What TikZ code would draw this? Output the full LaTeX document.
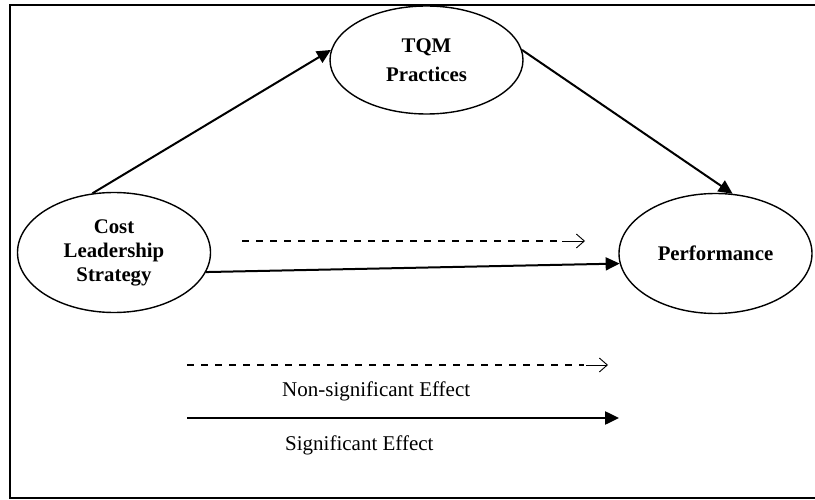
\documentclass[tikz,border=0pt]{standalone}
\usepackage{fontspec}
\setmainfont{Liberation Serif}
\usetikzlibrary{arrows.meta,shapes.geometric,calc}
\tikzset{var/.style={draw,ellipse,line width=1.4pt,minimum width=193pt,minimum height=120pt,inner sep=0pt,align=center,font=\fontsize{20.8}{24}\selectfont\bfseries}}
\tikzset{sig/.style={line width=2pt,-{Triangle[length=14pt,width=13pt]}}}
\tikzset{nonsig/.style={line width=1.8pt,dash pattern=on 7pt off 7pt}}
\tikzset{barb/.style={line width=0.9pt,-{Straight Barb[length=8pt,width=14pt]}}}
\tikzset{lbl/.style={font=\fontsize{21}{21}\selectfont,anchor=west,inner sep=0pt}}

\begin{document}
\begin{tikzpicture}[x=1pt,y=-1pt]
\useasboundingbox (0,0) rectangle (815,500);
\draw[line width=2pt] (10,5) rectangle (830,498);
\node[var,minimum height=108pt,font=\fontsize{20.8}{29}\selectfont\bfseries] (tqm) at (426.5,60) {TQM\\Practices};
\node[var] (cls) at (114,252.5) {Cost\\Leadership\\Strategy};
\node[var] (perf) at (715.5,253.5) {Performance};
\draw[sig] (cls.110) -- (tqm.174);
\draw[sig] (tqm.6) -- (perf.74);
\draw[sig] (cls.-12) -- (perf.186);
\coordinate (d1) at (242,241);
\coordinate (d2) at (585,241);
\draw[nonsig] (d1) -- ($(d2)+(-26,0)$);
\draw[barb] ($(d2)+(-23,0)$) -- (d2);
\coordinate (n1) at (187,365);
\coordinate (n2) at (608,365);
\draw[nonsig] (n1) -- ($(n2)+(-24,0)$);
\draw[barb] ($(n2)+(-22,0)$) -- (n2);
\node[lbl] (nslbl) at (282,391) {Non-significant Effect};
\coordinate (s1) at (187,418);
\coordinate (s2) at (619,418);
\draw[sig,line width=2.5pt] (s1) -- (s2);
\node[lbl] (slbl) at (285,445) {Significant Effect};
\end{tikzpicture}
\end{document}
